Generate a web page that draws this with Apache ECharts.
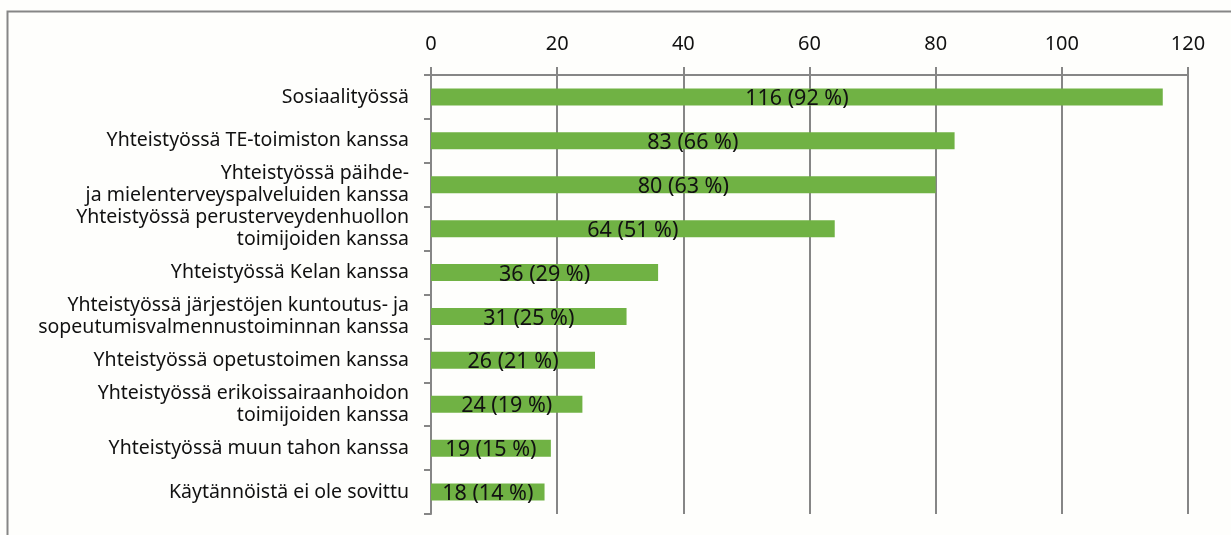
<!DOCTYPE html>
<html>
<head>
<meta charset="utf-8">
<script src="https://cdn.jsdelivr.net/npm/echarts@6/dist/echarts.min.js"></script>
<style>
html,body{margin:0;padding:0;background:#fefefc;}
#chart{width:1231px;height:535px;}
</style>
</head>
<body>
<div id="chart"></div>
<script>
// Yhteistyökäytännöt: lukumäärät ja osuudet
const categories = [
  'Sosiaalityössä',
  'Yhteistyössä TE-toimiston kanssa',
  'Yhteistyössä päihde-\nja mielenterveyspalveluiden kanssa',
  'Yhteistyössä perusterveydenhuollon\ntoimijoiden kanssa',
  'Yhteistyössä Kelan kanssa',
  'Yhteistyössä järjestöjen kuntoutus- ja\nsopeutumisvalmennustoiminnan kanssa',
  'Yhteistyössä opetustoimen kanssa',
  'Yhteistyössä erikoissairaanhoidon\ntoimijoiden kanssa',
  'Yhteistyössä muun tahon kanssa',
  'Käytännöistä ei ole sovittu'
];
const counts = [116, 83, 80, 64, 36, 31, 26, 24, 19, 18];
const percents = [92, 66, 63, 51, 29, 25, 21, 19, 15, 14];
const axisTicks = [0, 20, 40, 60, 80, 100, 120];

const gray = '#868686';
const font = '"Noto Sans", "Open Sans", sans-serif';

const chart = echarts.init(document.getElementById('chart'));
chart.setOption({
  animation: false,
  backgroundColor: '#fefefc',
  graphic: [{
    type: 'rect',
    shape: { x: 7.5, y: 11.5, width: 1240, height: 540 },
    style: { fill: 'none', stroke: gray, lineWidth: 2 },
    silent: true, z: -1
  }],
  grid: { left: 431, right: 43, top: 75, bottom: 21 },
  xAxis: {
    type: 'value',
    position: 'top',
    min: axisTicks[0],
    max: axisTicks[axisTicks.length - 1],
    interval: axisTicks[1] - axisTicks[0],
    axisLine: { show: true, lineStyle: { color: gray, width: 2 } },
    axisTick: { show: true, length: 8, lineStyle: { color: gray, width: 2 } },
    axisLabel: { color: '#111', fontSize: 20, fontFamily: font, margin: 21 },
    splitLine: { show: true, lineStyle: { color: gray, width: 2 } }
  },
  yAxis: {
    type: 'category',
    inverse: true,
    data: categories,
    axisLine: { show: true, lineStyle: { color: gray, width: 2 } },
    axisTick: { show: true, length: 7, lineStyle: { color: gray, width: 2 } },
    axisLabel: { color: '#111', fontSize: 19.5, fontFamily: font, margin: 22, lineHeight: 22, align: 'right' }
  },
  series: [{
    type: 'bar',
    data: counts,
    barWidth: 17,
    itemStyle: { color: '#70b244' },
    label: {
      show: true,
      position: 'inside',
      offset: [0, 2],
      color: '#111',
      fontSize: 21.5,
      fontFamily: font,
      formatter: p => counts[p.dataIndex] + ' (' + percents[p.dataIndex] + ' %)'
    }
  }]
});
</script>
</body>
</html>
